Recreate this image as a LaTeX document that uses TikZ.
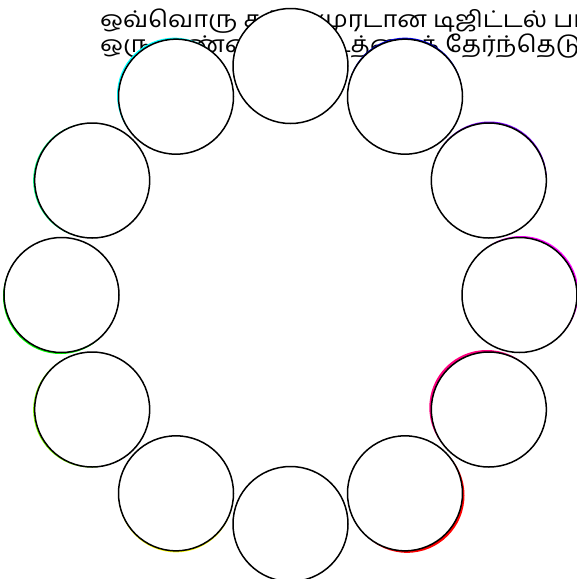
\documentclass[tikz,border=0pt]{standalone}
\usepackage{fontspec}
\newfontfamily\tamilfont[Script=Tamil,FakeStretch=1.1]{Hind Madurai}
\usepackage{xcolor}
\usetikzlibrary{positioning,calc}

\begin{document}
\begin{tikzpicture}[x=1pt,y=-1pt,
    caption/.style={font=\tamilfont\fontsize{23}{26}\selectfont,inner sep=0pt,anchor=base west},
    halo/.style={circle,minimum size=115pt,inner sep=0pt,line width=1.5pt},
    disc/.style={circle,draw=black,fill=white,minimum size=115pt,inner sep=0pt,line width=1.5pt}]
  \useasboundingbox (0,0) rectangle (577,579);

  %% caption, partly hidden by the ring
  \node[caption] (line1) at (100,27) {ஒவ்வொரு சற்று முரடான டிஜிட்டல் படமும்};
  \node[caption] (line2) at (100,52) {ஒரு வண்ணத் தட்டத்தைக் தேர்ந்தெடுக்கிறது};

  %% coloured halos, one hue per position
  \foreach \k/\hx/\dx/\dy in {0/007FFF/0/0, 1/0000FF/0/-1.5, 2/7F00FF/0.5/-1.5,
                              3/FF00FF/1.5/-1.5, 4/FF007F/-2/-2, 5/FF0000/2/2,
                              6/FF7F00/0/0, 7/FFFF00/0/1.5, 8/7FFF00/-1.5/0.5,
                              9/00FF00/-1/1.5, 10/00FF7F/-1.5/0, 11/00FFFF/-1.5/-1.5} {
    \definecolor{hue\k}{HTML}{\hx}
    \node[halo,fill=hue\k] (halo\k) at ($(290.5,295)+(30*\k-90:229)+(\dx,\dy)$) {};
  }

  %% white discs on top
  \foreach \k in {0,...,11}
    \node[disc] (dot\k) at ($(290.5,295)+(30*\k-90:229)$) {};
\end{tikzpicture}
\end{document}
